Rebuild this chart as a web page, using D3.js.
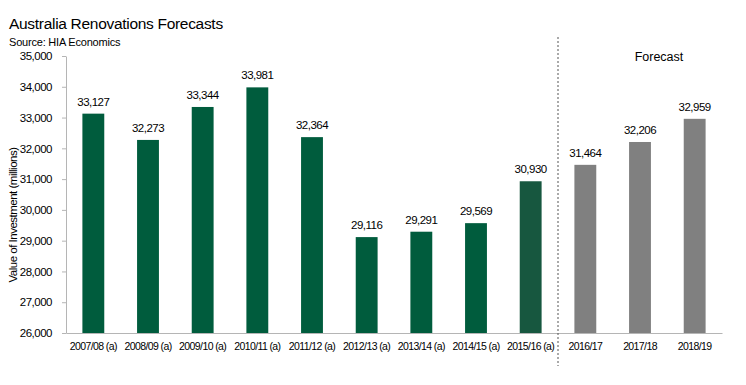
<!DOCTYPE html>
<html>
<head>
<meta charset="utf-8">
<script src="https://cdn.jsdelivr.net/npm/d3@7"></script>
<style>
  body { margin: 0; background: #fff; }
  svg { font-family: "Liberation Sans", Arial, sans-serif; }
</style>
</head>
<body>
<div id="chart"></div>
<script>
// Chart values
let years = ["2007/08 (a)", "2008/09 (a)", "2009/10 (a)", "2010/11 (a)", "2011/12 (a)",
    "2012/13 (a)", "2013/14 (a)", "2014/15 (a)", "2015/16 (a)", "2016/17", "2017/18", "2018/19"];
let investment = [33127, 32273, 33344, 33981, 32364, 29116, 29291, 29569, 30930, 31464, 32206, 32959];
let isForecast = [false, false, false, false, false, false, false, false, false, true, true, true];
let yTicks = [26000, 27000, 28000, 29000, 30000, 31000, 32000, 33000, 34000, 35000];

var width = 746;
var height = 385;
var margin = { top: 56, right: 24, bottom: 52, left: 66 };

var svg = d3.select("#chart")
    .append("svg")
    .attr("width", width)
    .attr("height", height);

// Title and source
svg.append("text")
    .attr("x", 9)
    .attr("y", 29)
    .style("font-size", "15.5px")
    .style("letter-spacing", "-0.3px")
    .text("Australia Renovations Forecasts");

svg.append("text")
    .attr("x", 9)
    .attr("y", 45.5)
    .style("font-size", "11px")
    .style("letter-spacing", "-0.2px")
    .text("Source: HIA Economics");

var x = d3.scaleBand()
    .domain(years)
    .range([margin.left, width - margin.right])
    .paddingInner(0.6)
    .paddingOuter(0.3);

var y = d3.scaleLinear()
    .domain([26000, 35000])
    .range([height - margin.bottom, margin.top]);

// Y axis
var yAxis = svg.append("g")
    .attr("transform", "translate(" + margin.left + ",0)")
    .call(d3.axisLeft(y).tickValues(yTicks).tickSize(4).tickSizeOuter(0).tickFormat(d3.format(",")));
yAxis.select(".domain").attr("stroke", "#b5b5b5");
yAxis.selectAll(".tick line").attr("stroke", "#b5b5b5");
yAxis.selectAll(".tick text")
    .attr("x", -14)
    .style("font-size", "11.5px")
    .style("letter-spacing", "-0.5px")
    .attr("fill", "#000")
    .style("font-family", "'Liberation Sans', Arial, sans-serif");

// Y axis label
svg.append("text")
    .attr("transform", "translate(17,215) rotate(-90)")
    .attr("text-anchor", "middle")
    .style("font-size", "11.5px")
    .style("letter-spacing", "-0.5px")
    .text("Value of Investment (millions)");

// X axis
var xAxis = svg.append("g")
    .attr("transform", "translate(0," + (height - margin.bottom) + ")")
    .call(d3.axisBottom(x).tickSize(0).tickSizeOuter(0));
xAxis.select(".domain").attr("stroke", "#b5b5b5");
xAxis.selectAll(".tick text")
    .attr("y", 10)
    .style("font-size", "10.5px")
    .style("letter-spacing", "-0.6px")
    .attr("fill", "#000")
    .style("font-family", "'Liberation Sans', Arial, sans-serif");

// Bars
svg.selectAll("rect.bar")
    .data(years)
    .enter()
    .append("rect")
    .attr("class", "bar")
    .attr("x", function (d) { return x(d); })
    .attr("width", x.bandwidth())
    .attr("y", function (d, i) { return y(investment[i]); })
    .attr("height", function (d, i) { return y(26000) - y(investment[i]); })
    .attr("fill", function (d, i) {
        if (isForecast[i]) return "#808080";
        return i == 8 ? "#17573f" : "#005c3d";
    });

// Value labels
svg.selectAll("text.val")
    .data(years)
    .enter()
    .append("text")
    .attr("class", "val")
    .attr("x", function (d) { return x(d) + x.bandwidth() / 2; })
    .attr("y", function (d, i) { return y(investment[i]) - 8; })
    .attr("text-anchor", "middle")
    .style("font-size", "11.5px")
    .style("letter-spacing", "-0.5px")
    .text(function (d, i) { return d3.format(",")(investment[i]); });

// Dashed divider between actuals and forecasts
var step = x.step();
var divX = x(years[9]) - step * x.paddingInner() / 2;
svg.append("line")
    .attr("x1", divX)
    .attr("x2", divX)
    .attr("y1", 37)
    .attr("y2", 366)
    .attr("stroke", "#555")
    .attr("stroke-width", 1)
    .attr("stroke-dasharray", "2,2");

svg.append("text")
    .attr("x", 659)
    .attr("y", 61)
    .attr("text-anchor", "middle")
    .style("font-size", "12.5px")
    .text("Forecast");
</script>
</body>
</html>
